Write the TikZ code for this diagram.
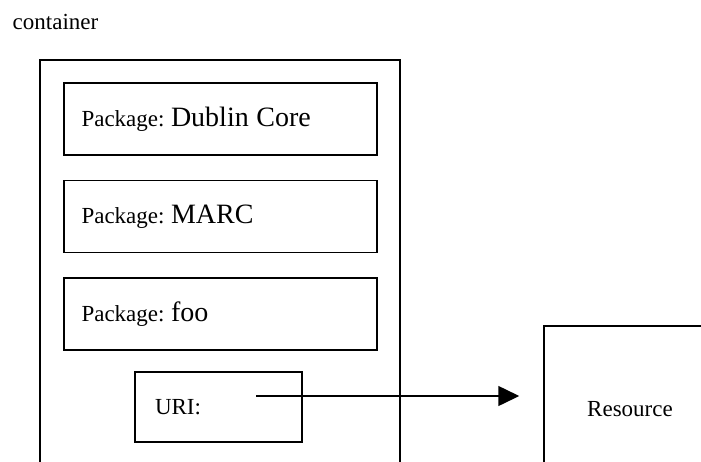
\documentclass[tikz,border=0pt]{standalone}
\usepackage{fontspec}
\setmainfont{Liberation Serif}
\usetikzlibrary{positioning,arrows.meta}

\newcommand{\pkgname}[1]{Package:\hspace{-2.5pt} {\fontsize{14}{16}\selectfont #1}}

\begin{document}
\begin{tikzpicture}[x=0.5pt,y=-0.5pt,line width=0.75pt,
    every node/.style={font=\fontsize{11.5}{14}\selectfont},
    frame/.style={draw,rectangle,inner sep=0pt},
    pkg box/.style={draw,rectangle,minimum height=36pt,text width=139pt,inner xsep=8.75pt,align=left}]
    \useasboundingbox (0,0) rectangle (701,461);
    \clip (0,0) rectangle (701,461);

    \node[anchor=west,inner sep=0pt] (lbl) at (12,22) {container};
    \node[frame,minimum width=180pt,minimum height=210pt] (container) at (220,270) {};

    \node[pkg box] (dc) at (220.5,119) {\pkgname{Dublin Core}};
    \node[pkg box,below=12pt of dc] (marc) {\pkgname{MARC}};
    \node[pkg box,below=12pt of marc] (foo) {\pkgname{foo}};
    \node[pkg box,text width=63.5pt,inner xsep=10pt,minimum height=35pt] (uri) at (218.5,407) {URI:};

    \node[frame,minimum width=86pt,minimum height=83pt] (res) at (630,409) {Resource};

    \coordinate (ptr) at (256,396);
    \draw[-{Triangle[length=10.5pt,width=10pt]},shorten >=12pt] (ptr) -- (ptr -| res.west);
\end{tikzpicture}
\end{document}
